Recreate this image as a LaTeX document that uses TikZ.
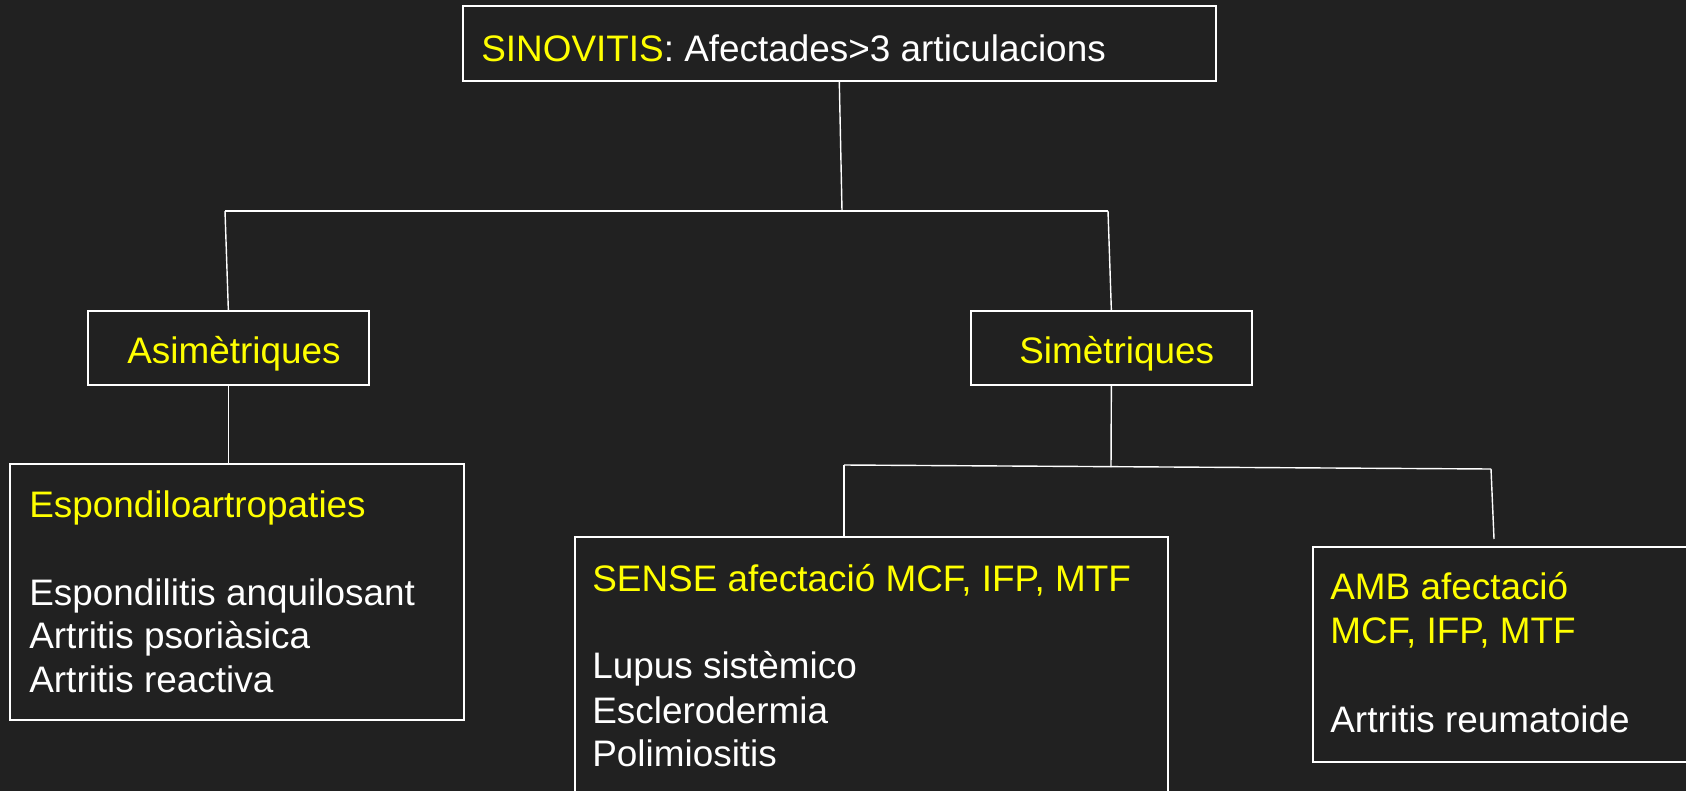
\documentclass[tikz,border=0pt]{standalone}
\usepackage{fontspec}
\setmainfont{Liberation Sans}
\definecolor{bgdark}{HTML}{212121}
\definecolor{ylw}{HTML}{FFFF00}

\begin{document}
\begin{tikzpicture}[x=0.02cm, y=-0.02cm]
      \tikzset{box/.style={draw=white, line width=1pt, rectangle, inner sep=0pt, anchor=north west}}
      \tikzset{txt/.style={text=white, inner sep=0pt, anchor=base west, font=\fontsize{21}{25}\selectfont}}
      \tikzset{ttl/.style={txt, text=ylw}}
      \tikzset{link/.style={draw=white, line width=0.8pt}}
%% Background
	\fill[bgdark] (0,0) rectangle (1686,791);
	\clip (0,0) rectangle (1686,791);
%% Boxes
	%niveau 1
      	\node[box, minimum width=15.06cm, minimum height=1.50cm] (sinov) at (462,5) {};
	%niveau 2
      	\node[box, minimum width=5.62cm, minimum height=1.48cm] (asim) at (87,310) {};
     	\node[box, minimum width=5.62cm, minimum height=1.48cm] (sim) at (970,310) {};
	%niveau 3
     	\node[box, minimum width=9.08cm, minimum height=5.12cm] (spon) at (9,463) {};
     	\node[box, minimum width=11.86cm, minimum height=5.60cm] (sense) at (574,536) {};
     	\node[box, minimum width=8.00cm, minimum height=4.30cm] (amb) at (1312,546) {};
%% Texts
	%titols
      	\node[txt] (sinovtxt) at (481,61) {\textcolor{ylw}{SINOVITIS}: Afectades>3 articulacions};
      	\node[ttl] (asimtxt) at (127,363) {Asimètriques};
      	\node[ttl] (simtxt) at (1019,363) {Simètriques};
	%espondiloartropaties
      	\node[ttl] (spon0) at (29,517) {Espondiloartropaties};
      	\node[txt] (spon1) at (29,605) {Espondilitis anquilosant};
      	\node[txt] (spon2) at (29,648) {Artritis psoriàsica};
      	\node[txt] (spon3) at (29,692) {Artritis reactiva};
	%sense
      	\node[ttl] (sense0) at (592,591) {SENSE afectació MCF, IFP, MTF};
      	\node[txt] (sense1) at (592,678) {Lupus sistèmico};
      	\node[txt] (sense2) at (592,723) {Esclerodermia};
      	\node[txt] (sense3) at (592,766) {Polimiositis};
	%amb
      	\node[ttl] (amb0) at (1330,599) {AMB afectació};
      	\node[ttl] (amb1) at (1330,643) {MCF, IFP, MTF};
      	\node[txt] (amb2) at (1330,732) {Artritis reumatoide};
%% Edges
	%branques
		\coordinate (hl) at (225,211);
		\coordinate (hm) at (842,211);
		\coordinate (hr) at (1108,211);
		\coordinate (sl) at (844,465);
		\coordinate (sm) at (1111,467);
		\coordinate (sr) at (1491,469);
		\coordinate (ambin) at (1494,539);
	%linies
		\path [link] (sinov.south) edge (hm);
		\path [link] (hl) edge (hr);
		\path [link] (hl) edge (asim.north);
		\path [link] (hr) edge (sim.north);
		\path [link] (asim.south) edge (asim.south |- spon.north);
		\path [link] (sim.south) edge (sm);
		\path [link] (sl) edge (sr);
		\path [link] (sl) edge (sl |- sense.north);
		\path [link] (sr) edge (ambin);

\end{tikzpicture}
\end{document}
